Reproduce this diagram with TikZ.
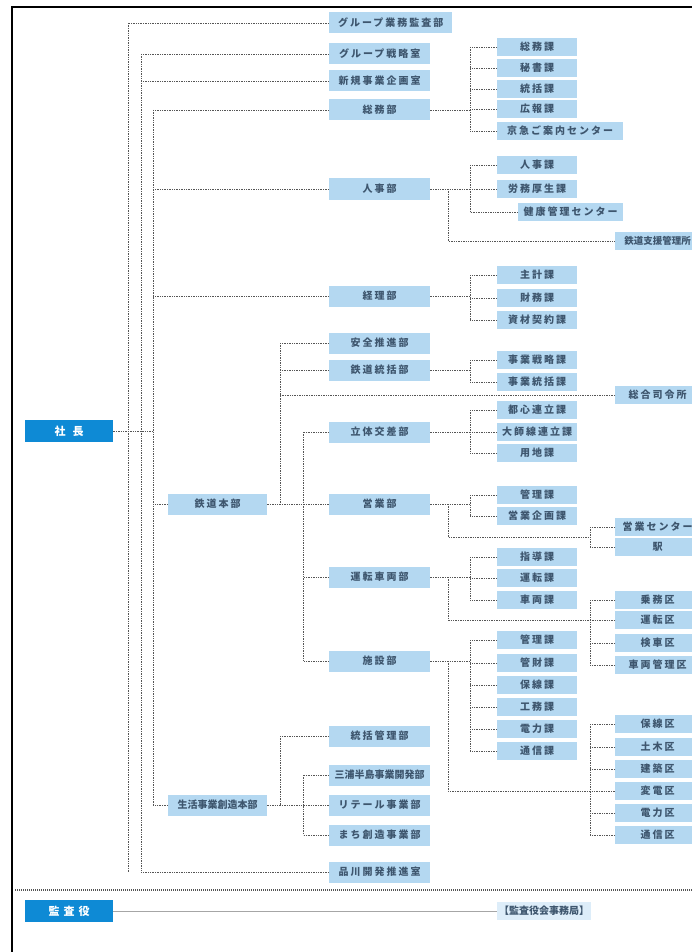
\documentclass[tikz,border=0pt]{standalone}
\usepackage{fontspec}
\newfontfamily\jp[LetterSpace=20]{Noto Sans CJK JP}
\newfontfamily\jpn{Noto Sans CJK JP}
\definecolor{boxblue}{HTML}{B4D8F1}
\definecolor{txtc}{HTML}{3E566E}
\definecolor{topblue}{HTML}{0E8AD5}
\definecolor{linec}{HTML}{555555}
\begin{document}
\begin{tikzpicture}[x=1pt,y=-1pt,
  box/.style={fill=boxblue, text=txtc, inner sep=0pt, anchor=west, font=\fontsize{10}{12}\selectfont\jp\bfseries},
  nar/.style={font=\fontsize{10}{12}\selectfont\jpn\bfseries},
  nars/.style={font=\fontsize{9.5}{11}\selectfont\jpn\bfseries},
  c1/.style={box, minimum width=101pt, minimum height=21pt},
  c2/.style={box, minimum width=80pt, minimum height=18pt},
  c3/.style={box, minimum width=85pt, minimum height=18pt},
  hq/.style={box, minimum width=99pt, minimum height=21pt},
  top/.style={fill=topblue, text=white, inner sep=0pt, anchor=west, minimum width=88pt, minimum height=22pt, font=\fontsize{11}{13}\selectfont\jpn\bfseries},
  link/.style={draw=linec, line width=0.65pt, dash pattern=on 1.4pt off 1pt},
  solidlink/.style={draw=black!35, line width=0.9pt},
  sep/.style={draw=linec, line width=1.3pt, dash pattern=on 1pt off 1pt},
  frame/.style={draw=black, line width=1.4pt}
]
\useasboundingbox (0,0) rectangle (692,952);
\fill[white] (0,0) rectangle (692,952);
\draw[frame] (12,960) -- (12,7) -- (700,7);

% trunk x positions
\coordinate (A) at (128,0);
\coordinate (B) at (141,0);
\coordinate (C) at (153,0);
\coordinate (D) at (280,0);
\coordinate (E) at (303,0);
\coordinate (F) at (470,0);
\coordinate (G) at (448,0);
\coordinate (H) at (590,0);
\coordinate (eJ) at (590,537);
\coordinate (sepL) at (15,890);
\coordinate (sepR) at (692,890);

% top
\node[top] (pres) at (25,431) {社\hspace{7pt}長};
\node[top] (kansa) at (25,911) {監\hspace{4pt}査\hspace{4pt}役};

% headquarters
\node[hq] (tetsu) at (168,504) {鉄道本部};
\node[hq,nar] (seikatsu) at (168,805) {生活事業創造本部};

% column 1
\node[c1,minimum width=123pt] (gaudit) at (329,23) {グループ業務監査部};
\node[c1] (gsenr) at (329,54) {グループ戦略室};
\node[c1] (shinki) at (329,81) {新規事業企画室};
\node[c1] (somu) at (329,110) {総務部};
\node[c1] (jinji) at (329,189) {人事部};
\node[c1] (keiri) at (329,296) {経理部};
\node[c1] (anzen) at (329,343) {安全推進部};
\node[c1] (ttoukatsu) at (329,370) {鉄道統括部};
\node[c1] (rittai) at (329,432) {立体交差部};
\node[c1] (eigyo) at (329,504) {営業部};
\node[c1] (unten) at (329,577) {運転車両部};
\node[c1] (shisetsu) at (329,661) {施設部};
\node[c1] (tkanri) at (329,736) {統括管理部};
\node[c1,nar] (miura) at (329,775) {三浦半島事業開発部};
\node[c1] (retail) at (329,805) {リテール事業部};
\node[c1] (machi) at (329,835) {まち創造事業部};
\node[c1] (shinagawa) at (329,872) {品川開発推進室};

% column 2
\node[c2] (s1) at (497,47) {総務課};
\node[c2] (s2) at (497,68) {秘書課};
\node[c2] (s3) at (497,89) {統括課};
\node[c2] (s4) at (497,109) {広報課};
\node[c2,minimum width=126pt] (s5) at (497,131) {京急ご案内センター};
\node[c2] (j1) at (497,165) {人事課};
\node[c2] (j2) at (497,189) {労務厚生課};
\node[c2,minimum width=105pt] (j3) at (518,212) {健康管理センター};
\node[c2] (k1) at (497,275) {主計課};
\node[c2] (k2) at (497,298) {財務課};
\node[c2] (k3) at (497,320) {資材契約課};
\node[c2] (t1) at (497,360) {事業戦略課};
\node[c2] (t2) at (497,382) {事業統括課};
\node[c2] (r1) at (497,410) {都心連立課};
\node[c2] (r2) at (497,432) {大師線連立課};
\node[c2] (r3) at (497,453) {用地課};
\node[c2] (e1) at (497,495) {管理課};
\node[c2] (e2) at (497,516) {営業企画課};
\node[c2] (u1) at (497,557) {指導課};
\node[c2] (u2) at (497,578) {運転課};
\node[c2] (u3) at (497,600) {車両課};
\node[c2] (f1) at (497,640) {管理課};
\node[c2] (f2) at (497,663) {管財課};
\node[c2] (f3) at (497,685) {保線課};
\node[c2] (f4) at (497,707) {工務課};
\node[c2] (f5) at (497,729) {電力課};
\node[c2] (f6) at (497,751) {通信課};

% column 3
\node[c3,nars] (j4) at (615,241) {鉄道支援管理所};
\node[c3] (sougou) at (615,395) {総合司令所};
\node[c3] (ec) at (615,527) {営業センター};
\node[c3] (eki) at (615,547) {駅};
\node[c3] (uk1) at (615,600) {乗務区};
\node[c3] (uk2) at (615,620) {運転区};
\node[c3] (uk3) at (615,643) {検車区};
\node[c3] (uk4) at (615,665) {車両管理区};
\node[c3] (fk1) at (615,724) {保線区};
\node[c3] (fk2) at (615,747) {土木区};
\node[c3] (fk3) at (615,769) {建築区};
\node[c3] (fk4) at (615,791) {変電区};
\node[c3] (fk5) at (615,813) {電力区};
\node[c3] (fk6) at (615,835) {通信区};

\node[box,nar,inner xsep=2pt,minimum height=18pt,fill=boxblue!45] (kjimu) at (497,911) {【監査役会事務局】};

% trunks
\draw[link] (pres.east) -- (pres.east -| C);
\draw[link] (A |- gaudit.west) -- (A |- shinagawa.west);
\draw[link] (B |- gsenr.west) -- (B |- shinagawa.west);
\draw[link] (C |- somu.west) -- (C |- seikatsu.west);
\draw[link] (gaudit.west) -- (gaudit.west -| A);
\foreach \n in {gsenr,shinki,shinagawa} \draw[link] (\n.west) -- (\n.west -| B);
\foreach \n in {somu,jinji,keiri,tetsu,seikatsu} \draw[link] (\n.west) -- (\n.west -| C);

% railway HQ
\draw[link] (tetsu.east) -- (eigyo.west);
\draw[link] (D |- anzen.west) -- (D |- tetsu.east);
\foreach \n in {anzen,ttoukatsu,sougou} \draw[link] (\n.west) -- (\n.west -| D);
\draw[link] (E |- rittai.west) -- (E |- shisetsu.west);
\foreach \n in {rittai,unten,shisetsu} \draw[link] (\n.west) -- (\n.west -| E);

% departments to sections
\foreach \d/\a/\b in {somu/s1/s5, jinji/j1/j3, keiri/k1/k3, ttoukatsu/t1/t2, rittai/r1/r3, eigyo/e1/e2, unten/u1/u3, shisetsu/f1/f6} {
  \draw[link] (\d.east) -- (\d.east -| F);
  \draw[link] (F |- \a.west) -- (F |- \b.west);
}
\foreach \c in {s1,s2,s3,s4,s5,j1,j2,j3,k1,k2,k3,t1,t2,r1,r2,r3,e1,e2,u1,u2,u3,f1,f2,f3,f4,f5,f6}
  \draw[link] (\c.west) -- (\c.west -| F);

% branches to field offices
\draw[link] (jinji.east -| G) |- (j4.west);
\draw[link] (eigyo.east -| G) |- (eJ);
\draw[link] (H |- ec.west) -- (H |- eki.west);
\foreach \c in {ec,eki} \draw[link] (\c.west) -- (\c.west -| H);
\draw[link] (unten.east -| G) |- (uk2.west);
\draw[link] (H |- uk1.west) -- (H |- uk4.west);
\foreach \c in {uk1,uk3,uk4} \draw[link] (\c.west) -- (\c.west -| H);
\draw[link] (shisetsu.east -| G) |- (fk4.west);
\draw[link] (H |- fk1.west) -- (H |- fk6.west);
\foreach \c in {fk1,fk2,fk3,fk5,fk6} \draw[link] (\c.west) -- (\c.west -| H);

% life business HQ
\draw[link] (seikatsu.east) -- (retail.west);
\draw[link] (D |- tkanri.west) -- (D |- seikatsu.east);
\draw[link] (tkanri.west) -- (tkanri.west -| D);
\draw[link] (E |- miura.west) -- (E |- machi.west);
\foreach \c in {miura,machi} \draw[link] (\c.west) -- (\c.west -| E);

% separator and auditors
\draw[sep] (sepL) -- (sepR);
\draw[solidlink] (kansa.east) -- (kjimu.west);
\end{tikzpicture}
\end{document}
